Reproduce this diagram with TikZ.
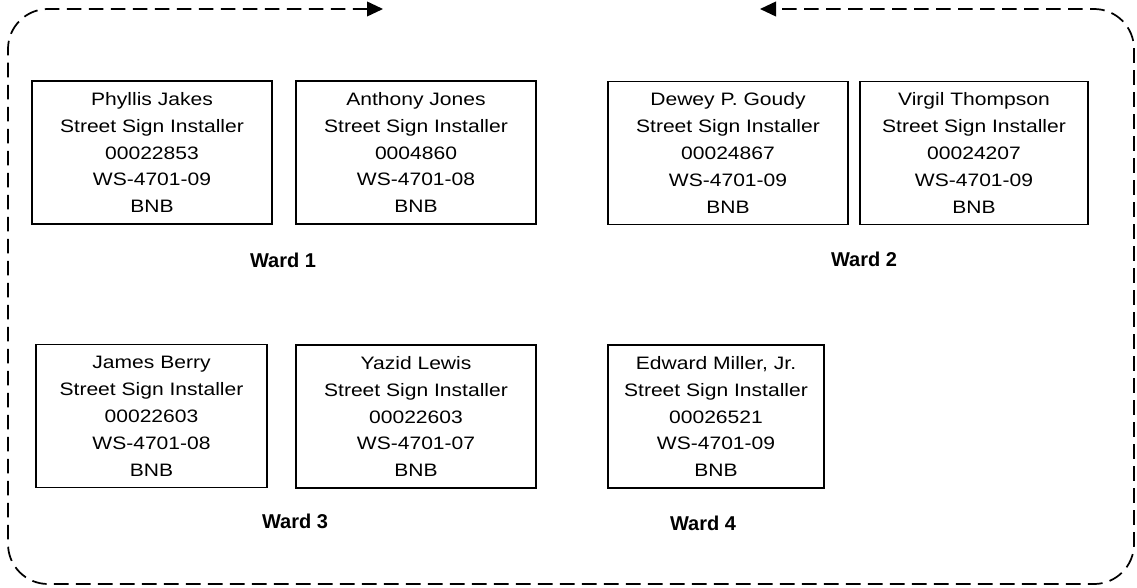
\documentclass[tikz,border=0pt]{standalone}
\usepackage{fontspec}
\setmainfont{Liberation Sans}
\newfontfamily\cardfont[FakeStretch=1.17]{Liberation Sans}
\usetikzlibrary{arrows.meta}

\begin{document}
\begin{tikzpicture}[x=0.75pt, y=-0.75pt,
    card/.style={draw, line width=1.2pt, align=center, inner sep=0pt,
        minimum height=107.25pt, font=\cardfont\fontsize{13.5}{20.2}\selectfont},
    ward/.style={font=\bfseries\fontsize{15}{18}\selectfont},
    loop/.style={line width=1.3pt, dash pattern=on 11pt off 5.5pt,
        rounded corners=30pt, {Triangle[length=12pt,width=11pt]}-{Triangle[length=12pt,width=11pt]}}]
    \useasboundingbox (0,0) rectangle (1137,588);
    % first row
    \node[card, minimum width=180pt] (jakes) at (152,152.5) {Phyllis Jakes\\Street Sign Installer\\00022853\\WS-4701-09\\BNB};
    \node[card, minimum width=180pt] (jones) at (416,152.5) {Anthony Jones\\Street Sign Installer\\0004860\\WS-4701-08\\BNB};
    \node[card, minimum width=180pt] (goudy) at (728,153) {Dewey P. Goudy\\Street Sign Installer\\00024867\\WS-4701-09\\BNB};
    \node[card, minimum width=171pt] (thompson) at (974,153) {Virgil Thompson\\Street Sign Installer\\00024207\\WS-4701-09\\BNB};
    \node[ward] (ward1) at (283,260) {Ward 1};
    \node[ward] (ward2) at (864,259) {Ward 2};
    % second row
    \node[card, minimum width=173.25pt] (berry) at (151.5,416) {James Berry\\Street Sign Installer\\00022603\\WS-4701-08\\BNB};
    \node[card, minimum width=180pt] (lewis) at (416,416.5) {Yazid Lewis\\Street Sign Installer\\00022603\\WS-4701-07\\BNB};
    \node[card, minimum width=162pt] (miller) at (716,416.5) {Edward Miller, Jr.\\Street Sign Installer\\00026521\\WS-4701-09\\BNB};
    \node[ward] (ward3) at (295,521) {Ward 3};
    \node[ward] (ward4) at (703,523) {Ward 4};
    % dashed loop round the wards
    \coordinate (loopstart) at (383,9);
    \coordinate (nw) at (8,9);
    \coordinate (sw) at (8,584);
    \coordinate (se) at (1134,584);
    \coordinate (ne) at (1134,9);
    \coordinate (loopend) at (760,9);
    \draw[loop] (loopstart) -- (nw) -- (sw) -- (se) -- (ne) -- (loopend);
\end{tikzpicture}
\end{document}
